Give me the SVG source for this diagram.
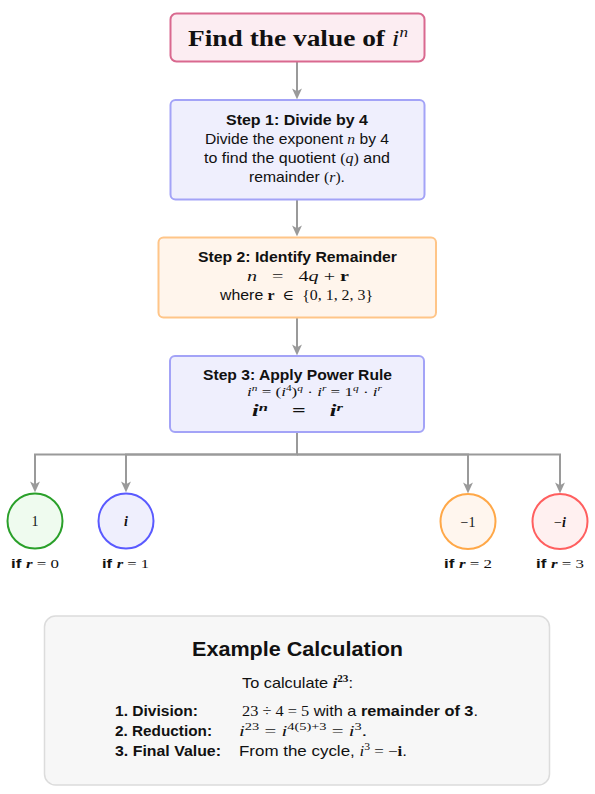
<svg xmlns="http://www.w3.org/2000/svg" width="595" height="794" viewBox="0 0 595 794">
<style>
.sans{font-family:"Liberation Sans","DejaVu Sans",sans-serif;fill:#111}
.serif{font-family:"Liberation Serif","DejaVu Serif",serif;fill:#111}
.b{font-weight:bold}
.it{font-style:italic}
.mi{font-family:"Liberation Serif","DejaVu Serif",serif;font-style:italic}
.mr{font-family:"Liberation Serif","DejaVu Serif",serif;font-style:normal}
.conn{fill:none;stroke:#9a9a9a;stroke-width:2}
</style>
<defs>
<marker id="arr" viewBox="0 0 10 10" refX="6" refY="5" markerWidth="11" markerHeight="11" markerUnits="userSpaceOnUse" orient="auto">
<path d="M0,0.5 L10,5 L0,9.5 L2.5,5 Z" fill="#9a9a9a"/>
</marker>
</defs>
<rect width="595" height="794" fill="#ffffff"/>

<g id="connectors">
<path class="conn" d="M297 62 V95" marker-end="url(#arr)"/>
<path class="conn" d="M297 199.5 V232" marker-end="url(#arr)"/>
<path class="conn" d="M297 317.5 V351" marker-end="url(#arr)"/>
<path class="conn" d="M297 431.5 V454.5 H35 V488" marker-end="url(#arr)"/>
<path class="conn" d="M297 454.5 H126 V488" marker-end="url(#arr)"/>
<path class="conn" d="M297 454.5 H468 V489" marker-end="url(#arr)"/>
<path class="conn" d="M297 454.5 H560 V489" marker-end="url(#arr)"/>
</g>

<g id="title">
<rect x="170.5" y="13.5" width="254" height="48" rx="6" fill="#fcedf2" stroke="#d9698f" stroke-width="2"/>
<text x="188" y="46" class="serif b" font-size="24" textLength="220" lengthAdjust="spacingAndGlyphs">Find the value of <tspan class="mi" font-weight="normal">i</tspan><tspan class="mi" font-weight="normal" font-size="15" dy="-9">n</tspan></text>
</g>

<g id="step1">
<rect x="170.5" y="100" width="254" height="99.5" rx="5" fill="#efeffd" stroke="#a3a3f7" stroke-width="2"/>
<text x="226" y="124.5" class="sans b" font-size="14.5" textLength="142" lengthAdjust="spacingAndGlyphs">Step 1:  Divide by 4</text>
<text x="205" y="143.5" class="sans" font-size="14.5" textLength="184" lengthAdjust="spacingAndGlyphs">Divide the exponent <tspan class="mi">n</tspan> by 4</text>
<text x="204" y="162.5" class="sans" font-size="14.5" textLength="186" lengthAdjust="spacingAndGlyphs">to find the quotient <tspan class="mr">(</tspan><tspan class="mi">q</tspan><tspan class="mr">)</tspan> and</text>
<text x="249" y="181.5" class="sans" font-size="14.5" textLength="96" lengthAdjust="spacingAndGlyphs">remainder <tspan class="mr">(</tspan><tspan class="mi">r</tspan><tspan class="mr">)</tspan>.</text>
</g>

<g id="step2">
<rect x="158.5" y="237.5" width="277.5" height="80" rx="5" fill="#fff5ec" stroke="#ffc588" stroke-width="2"/>
<text x="198" y="262" class="sans b" font-size="14.5" textLength="199" lengthAdjust="spacingAndGlyphs">Step 2:  Identify Remainder</text>
<text x="247" y="281" class="serif" font-size="15" xml:space="preserve" textLength="102" lengthAdjust="spacingAndGlyphs"><tspan class="mi">n</tspan>   =   4<tspan class="mi">q</tspan> + <tspan font-weight="bold">r</tspan></text>
<text x="220" y="300" class="sans" font-size="14.5" xml:space="preserve" textLength="153" lengthAdjust="spacingAndGlyphs">where <tspan class="mr" font-weight="bold">r</tspan><tspan class="mr">  ∈  {0, 1, 2, 3}</tspan></text>
</g>

<g id="step3">
<rect x="170" y="356" width="254" height="76" rx="5" fill="#efeffd" stroke="#a3a3f7" stroke-width="2"/>
<text x="203" y="380" class="sans b" font-size="14.5" textLength="189" lengthAdjust="spacingAndGlyphs">Step 3:  Apply Power Rule</text>
<text x="247" y="396" class="serif" font-size="13.5" xml:space="preserve" textLength="135" lengthAdjust="spacingAndGlyphs"><tspan class="mi">i</tspan><tspan class="mi" font-size="9" dy="-5">n</tspan><tspan dy="5"> = (</tspan><tspan class="mi">i</tspan><tspan font-size="9" dy="-5">4</tspan><tspan dy="5">)</tspan><tspan class="mi" font-size="9" dy="-5">q</tspan><tspan dy="5"> · </tspan><tspan class="mi">i</tspan><tspan class="mi" font-size="9" dy="-5">r</tspan><tspan dy="5"> = 1</tspan><tspan class="mi" font-size="9" dy="-5">q</tspan><tspan dy="5"> · </tspan><tspan class="mi">i</tspan><tspan class="mi" font-size="9" dy="-5">r</tspan></text>
<text x="252" y="416" class="serif b" font-size="16" xml:space="preserve" textLength="91" lengthAdjust="spacingAndGlyphs"><tspan class="mi">i</tspan><tspan class="mi" font-size="11" dy="-5">n</tspan><tspan dy="5">    =    </tspan><tspan class="mi">i</tspan><tspan class="mi" font-size="11" dy="-5">r</tspan></text>
</g>

<g id="r0">
<circle cx="35" cy="521" r="27.5" fill="#effbef" stroke="#2aa02a" stroke-width="2"/>
<text x="35" y="526" text-anchor="middle" class="serif" font-size="14">1</text>
<text x="11" y="568" class="sans b" font-size="13" xml:space="preserve" textLength="48" lengthAdjust="spacingAndGlyphs">if <tspan class="mi">r</tspan><tspan class="mr" font-weight="normal"> = 0</tspan></text>
</g>

<g id="r1">
<circle cx="126" cy="521" r="27.5" fill="#efeffd" stroke="#5a5aff" stroke-width="2"/>
<text x="126" y="526" text-anchor="middle" class="mi b" font-size="14" fill="#111">i</text>
<text x="102" y="568" class="sans b" font-size="13" xml:space="preserve" textLength="47" lengthAdjust="spacingAndGlyphs">if <tspan class="mi">r</tspan><tspan class="mr" font-weight="normal"> = 1</tspan></text>
</g>

<g id="r2">
<circle cx="468" cy="521.5" r="27.5" fill="#fff6ee" stroke="#ffa848" stroke-width="2"/>
<text x="468" y="526.5" text-anchor="middle" class="serif" font-size="14">−1</text>
<text x="444" y="568" class="sans b" font-size="13" xml:space="preserve" textLength="48" lengthAdjust="spacingAndGlyphs">if <tspan class="mi">r</tspan><tspan class="mr" font-weight="normal"> = 2</tspan></text>
</g>

<g id="r3">
<circle cx="560" cy="521.5" r="27.5" fill="#fff0f0" stroke="#ff5f5f" stroke-width="2"/>
<text x="560" y="526.5" text-anchor="middle" class="serif" font-size="14">−<tspan class="mi b">i</tspan></text>
<text x="536" y="568" class="sans b" font-size="13" xml:space="preserve" textLength="48" lengthAdjust="spacingAndGlyphs">if <tspan class="mi">r</tspan><tspan class="mr" font-weight="normal"> = 3</tspan></text>
</g>

<g id="example">
<rect x="44.5" y="616" width="505" height="169" rx="11" fill="#f7f7f7" stroke="#dcdcdc" stroke-width="1.5"/>
<text x="192" y="656" class="sans b" font-size="21" textLength="211" lengthAdjust="spacingAndGlyphs">Example Calculation</text>
<text x="242" y="687.5" class="sans" font-size="14.5" textLength="111" lengthAdjust="spacingAndGlyphs">To calculate <tspan class="mi b">i</tspan><tspan class="mr b" font-size="10" dy="-6">23</tspan><tspan dy="6">:</tspan></text>
<text x="115" y="716" class="sans b" font-size="14.5" textLength="83" lengthAdjust="spacingAndGlyphs">1.  Division:</text>
<text x="115" y="736" class="sans b" font-size="14.5" textLength="97" lengthAdjust="spacingAndGlyphs">2.  Reduction:</text>
<text x="115" y="755.5" class="sans b" font-size="14.5" textLength="106" lengthAdjust="spacingAndGlyphs">3.  Final Value:</text>
<text x="242" y="716" class="sans" font-size="14.5" textLength="236" lengthAdjust="spacingAndGlyphs"><tspan class="mr">23 ÷ 4 = 5</tspan> with a <tspan class="b">remainder of 3</tspan>.</text>
<text x="239" y="736" class="serif" font-size="14.5" textLength="128" lengthAdjust="spacingAndGlyphs"><tspan class="mi">i</tspan><tspan font-size="10" dy="-6">23</tspan><tspan dy="6"> = </tspan><tspan class="mi">i</tspan><tspan font-size="10" dy="-6">4(5)+3</tspan><tspan dy="6"> = </tspan><tspan class="mi">i</tspan><tspan font-size="10" dy="-6">3</tspan><tspan dy="6">.</tspan></text>
<text x="239" y="755.5" class="sans" font-size="14.5" textLength="168" lengthAdjust="spacingAndGlyphs">From the cycle, <tspan class="mi">i</tspan><tspan class="mr" font-size="10" dy="-6">3</tspan><tspan class="mr" dy="6"> = −</tspan><tspan class="mr b">i</tspan>.</text>
</g>
</svg>
